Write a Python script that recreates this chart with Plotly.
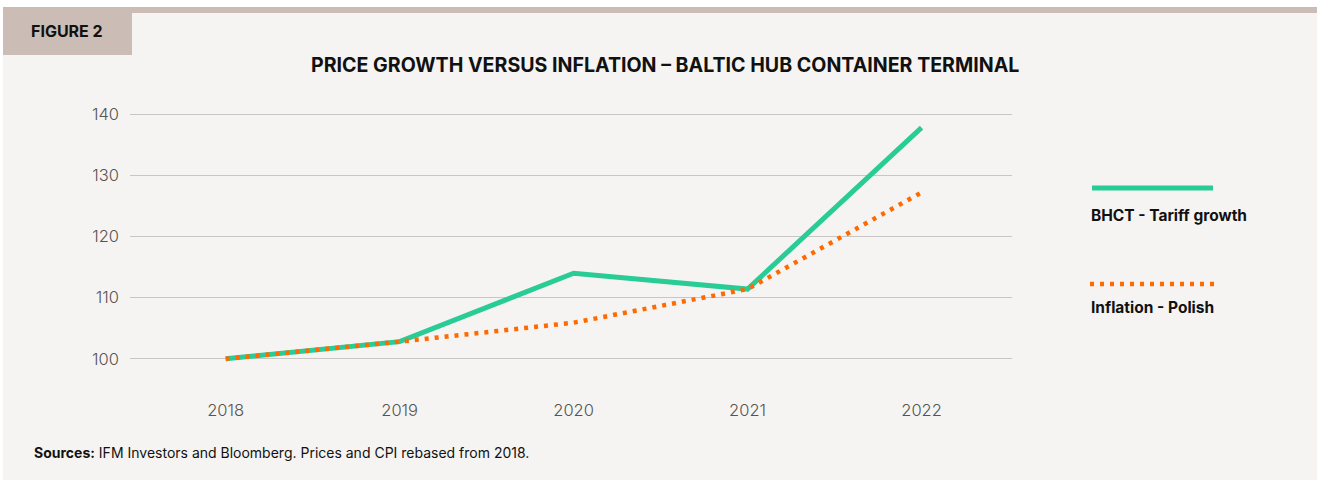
import plotly.graph_objects as go

years = ["2018", "2019", "2020", "2021", "2022"]
bhct_tariff = [100, 102.8, 114.0, 111.4, 137.8]
inflation_polish = [100, 102.8, 105.9, 111.4, 127.2]
y_ticks = [100, 110, 120, 130, 140]

GREEN = "#29cc96"
ORANGE = "#ff6a00"
BG = "#f5f4f2"
TAUPE = "#cbbdb5"
W, H = 1317, 483

fig = go.Figure()
fig.add_trace(go.Scatter(x=years, y=bhct_tariff, mode="lines", name="BHCT - Tariff growth",
                         line=dict(color=GREEN, width=5), showlegend=False))
fig.add_trace(go.Scatter(x=years, y=inflation_polish, mode="lines", name="Inflation - Polish",
                         line=dict(color=ORANGE, width=4.5, dash="4px,6px"), showlegend=False))

ml, mr, mt, mb = 130, 305, 102, 112
plot_w = W - ml - mr
plot_h = H - mt - mb

def to_paper_x(xpix):
    return (xpix - ml) / plot_w

def to_paper_y(ypix):
    return (H - mb - ypix) / plot_h

def rect(x0, y0, x1, y1, color):
    return dict(type="rect", xref="paper", yref="paper",
                x0=to_paper_x(x0), x1=to_paper_x(x1), y0=to_paper_y(y1), y1=to_paper_y(y0),
                fillcolor=color, line=dict(width=0), layer="below")

shapes = [
    rect(3, 7, W, 480, BG),
    rect(3, 7, W, 13, TAUPE),
    rect(3, 7, 132, 55, TAUPE),
    dict(type="line", xref="paper", yref="paper", x0=to_paper_x(1092), x1=to_paper_x(1213),
         y0=to_paper_y(188), y1=to_paper_y(188), line=dict(color=GREEN, width=5)),
    dict(type="line", xref="paper", yref="paper", x0=to_paper_x(1090), x1=to_paper_x(1216),
         y0=to_paper_y(284), y1=to_paper_y(284), line=dict(color=ORANGE, width=4.5, dash="4px,6px")),
]

def ann(text, x, y, size, anchor="left"):
    return dict(text=text, x=to_paper_x(x), y=to_paper_y(y), xref="paper", yref="paper",
                xanchor=anchor, yanchor="middle", showarrow=False,
                font=dict(family="Inter", size=size, color="#111111"))

annotations = [
    ann("<b>FIGURE 2</b>", 29, 31, 16),
    ann("<b>PRICE GROWTH VERSUS INFLATION – BALTIC HUB CONTAINER TERMINAL</b>", 665, 65, 19.6, "center"),
    ann("<b>BHCT - Tariff growth</b>", 1089, 215, 15.5),
    ann("<b>Inflation - Polish</b>", 1089, 307, 15.5),
    ann("<b>Sources:</b> IFM Investors and Bloomberg. Prices and CPI rebased from 2018.", 32, 452, 14),
]

fig.update_layout(
    width=W, height=H,
    margin=dict(l=ml, r=mr, t=mt, b=mb),
    paper_bgcolor="white",
    plot_bgcolor="rgba(0,0,0,0)",
    shapes=shapes,
    annotations=annotations,
    showlegend=False,
    xaxis=dict(type="category", range=[-0.55, 4.52], showgrid=False, zeroline=False, showline=False,
               ticks="", ticklabelstandoff=27,
               tickfont=dict(family="Inter", size=16.5, color="#555555", weight=300)),
    yaxis=dict(range=[98, 142], tickvals=y_ticks, showgrid=True, gridcolor="#c9c7c5", gridwidth=1.3,
               zeroline=False, showline=False, ticks="", ticklabelstandoff=10,
               tickfont=dict(family="Inter", size=16.5, color="#555555", weight=300)),
)

fig.write_html("out.html")
